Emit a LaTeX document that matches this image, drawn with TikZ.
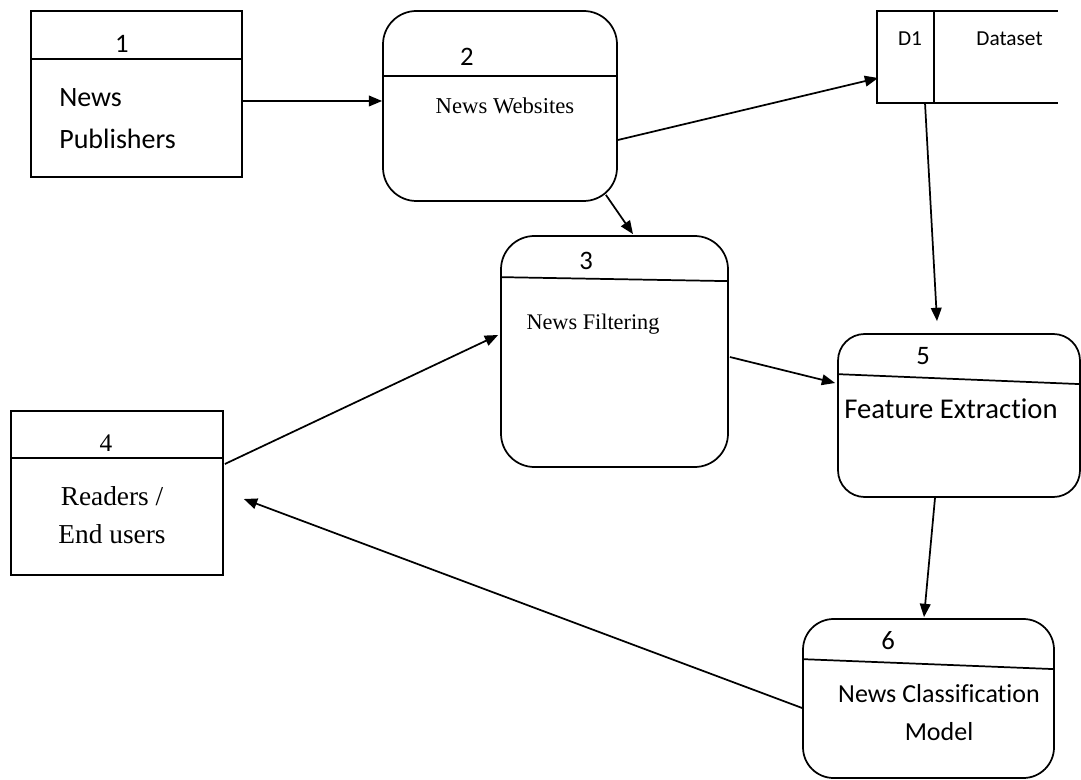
\documentclass[tikz,border=0pt]{standalone}
\usepackage{fontspec}
\setmainfont{Carlito}[Ligatures=NoCommon]
\newfontfamily\tnr{Liberation Serif}
\usetikzlibrary{arrows.meta, calc}

\begin{document}
\begin{tikzpicture}[x=0.75pt,y=-0.75pt,->,>={Triangle[length=10pt,width=8pt]},
  line width=1.3pt,
  ext/.style={rectangle,draw,inner sep=0pt},
  proc/.style={rectangle,draw,inner sep=0pt,rounded corners=#1},
  num/.style={font=\fontsize{20}{24}\selectfont},
  lbl/.style={font=\fontsize{20.5}{30}\selectfont,align=center}]
  \useasboundingbox (0,0) rectangle (1081,780);
  % boxes
  \node[ext,minimum width=158.25pt,minimum height=124.5pt] (p1) at (136.5,94) {};
  \node[proc=25pt,minimum width=175.5pt,minimum height=142.5pt] (p2) at (500,106) {};
  \node[minimum width=134.25pt,minimum height=67.5pt,inner sep=0pt] (ds) at (967.5,57) {};
  \node[proc=25pt,minimum width=170.25pt,minimum height=173.25pt] (p3) at (614.5,351.5) {};
  \node[ext,minimum width=159pt,minimum height=123pt] (p4) at (117,493) {};
  \node[proc=20pt,minimum width=181.5pt,minimum height=122.25pt] (p5) at (959,415.5) {};
  \node[proc=23pt,minimum width=188.25pt,minimum height=119.25pt] (p6) at (928.5,698.5) {};
  % dividers and data store
  \begin{scope}[-]
    \draw ($(p1.north west)+(0,49)$) -- ($(p1.north east)+(0,49)$);
    \draw ($(p2.north west)+(0,66)$) -- ($(p2.north east)+(0,66)$);
    \draw ($(p3.north west)+(0,42)$) -- ($(p3.north east)+(0,46)$);
    \draw ($(p4.north west)+(0,48)$) -- ($(p4.north east)+(0,48)$);
    \draw ($(p5.north west)+(0,41)$) -- ($(p5.north east)+(0,51)$);
    \draw ($(p6.north west)+(0,41)$) -- ($(p6.north east)+(0,51)$);
    \draw (ds.north east) -- (ds.north west) -- (ds.south west) -- (ds.south east);
    \draw ($(ds.north west)+(57,0)$) -- ($(ds.south west)+(57,0)$);
  \end{scope}
  % texts
  \node[num] (n1) at (122,44) {1};
  \node[lbl,align=left,anchor=west,font=\fontsize{21}{32}\selectfont] (t1) at (54,118.5) {News\\Publishers};
  \node[num] (n2) at (467,57) {2};
  \node[font=\tnr\fontsize{17}{20}\selectfont] (t2) at (505,106) {News Websites};
  \node[font=\fontsize{16}{19}\selectfont] (d1) at (910,39) {D1};
  \node[font=\fontsize{16}{19}\selectfont] (dt) at (1009.5,39) {Dataset};
  \node[num] (n3) at (586,261) {3};
  \node[font=\tnr\fontsize{16.7}{20}\selectfont] (t3) at (593,324) {News Filtering};
  \node[font=\tnr\fontsize{19}{22}\selectfont] (n4) at (106,443) {4};
  \node[font=\tnr\fontsize{20.5}{29}\selectfont,align=center] (t4) at (112,515) {Readers /\\End users};
  \node[num] (n5) at (923,356) {5};
  \node[lbl,font=\fontsize{21.5}{30}\selectfont] (t5) at (951,409) {Feature Extraction};
  \node[num] (n6) at (888,641) {6};
  \node[font=\fontsize{19.5}{28.5}\selectfont,align=center] (t6) at (939,712.5) {News Classification\\Model};
  % flows
  \path
    ($(p1.east)+(0,7)$) edge ($(p2.west)+(0,-5)$)
    ($(p2.east)+(0,34)$) edge ($(ds.west)+(1,21)$)
    ($(p2.south east)+(-12,-7)$) edge ($(p3.north)+(18.5,-1)$)
    ($(p4.east)+(1,-29)$) edge ($(p3.west)+(-2,-16.5)$)
    ($(p3.east)+(1,5.5)$) edge ($(p5.west)+(-2,-32.5)$)
    ($(ds.south)+(-42.5,0)$) edge ($(p5.north)+(-22,-12)$)
    ($(p5.south)+(-24,0)$) edge ($(p6.north)+(-4.5,-1)$)
    ($(p6.west)+(0,9.5)$) edge ($(p4.east)+(20,6)$);
\end{tikzpicture}
\end{document}
